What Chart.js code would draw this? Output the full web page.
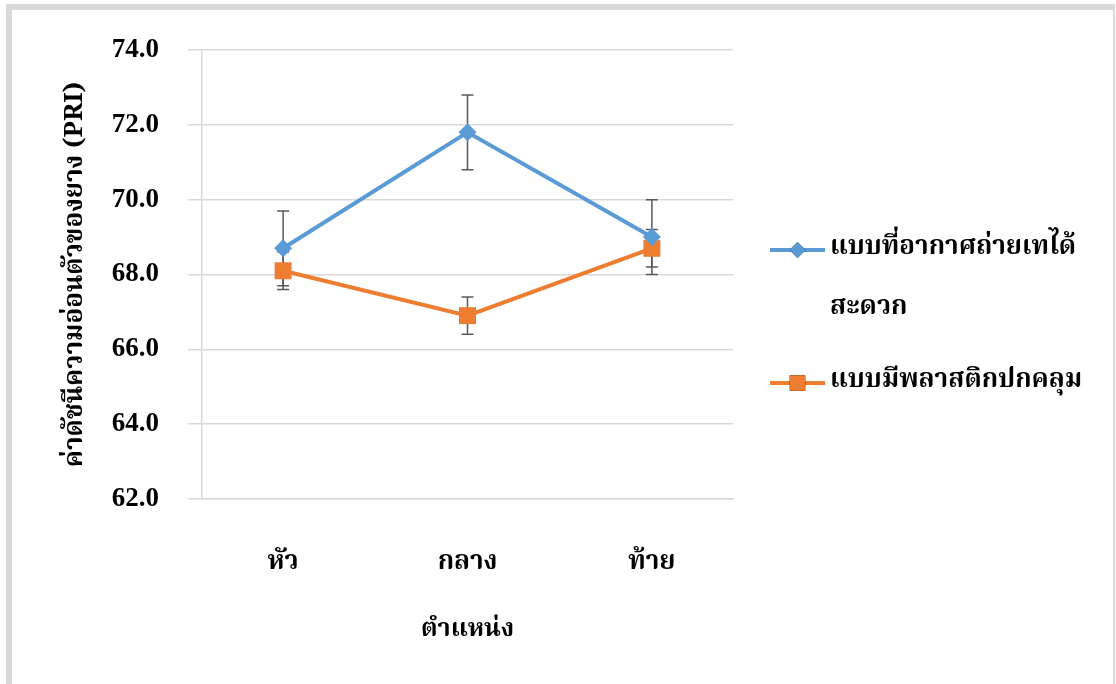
<!DOCTYPE html>
<html>
<head>
<meta charset="utf-8">
<script src="https://cdn.jsdelivr.net/npm/chart.js@4.4.1/dist/chart.umd.min.js"></script>
<style>
html, body { margin: 0; padding: 0; background: #fff; }
#wrap { position: relative; width: 1116px; height: 684px; }
</style>
</head>
<body>
<div id="wrap"><canvas id="chart_pri"></canvas></div>
<script>
// data
var positions = ['หัว', 'กลาง', 'ท้าย'];
var airyName = ['แบบที่อากาศถ่ายเทได้', 'สะดวก'];
var plasticName = ['แบบมีพลาสติกปกคลุม'];
var airyValues = [68.7, 71.8, 69.0];
var airyErrors = [1.0, 1.0, 1.0];
var plasticValues = [68.1, 66.9, 68.7];
var plasticErrors = [0.5, 0.5, 0.5];
var yMin = 62, yMax = 74, yStep = 2;
var yTitle = 'ค่าดัชนีความอ่อนตัวของยาง (PRI)';
var xTitle = 'ตำแหน่ง';

var thaiFont = '"Noto Serif Thai", "Noto Sans Thai", "TH Sarabun New", Garuda, Loma, "DejaVu Sans", sans-serif';
var numFont = '"Liberation Serif", "Times New Roman", serif';
var gridGray = '#d9d9d9';

function toPoints(values) {
    return values.map(function (v, i) { return { x: i, y: v }; });
}

var chart_pri = new Chart(document.getElementById('chart_pri'), {
    type: 'line',
    data: {
        datasets: [
            {
                label: airyName.join(''),
                legendLines: airyName,
                data: toPoints(airyValues),
                errors: airyErrors,
                borderColor: '#5b9bd5',
                backgroundColor: '#5b9bd5',
                borderWidth: 4,
                pointStyle: 'rectRot',
                pointRadius: 9,
                pointBorderWidth: 0,
                tension: 0
            },
            {
                label: plasticName.join(''),
                legendLines: plasticName,
                data: toPoints(plasticValues),
                errors: plasticErrors,
                borderColor: '#ed7d31',
                backgroundColor: '#ed7d31',
                borderWidth: 4,
                pointStyle: 'rect',
                pointRadius: 12,
                pointBorderWidth: 0,
                tension: 0
            }
        ]
    },
    options: {
        animation: false,
        responsive: true,
        maintainAspectRatio: false,
        layout: { padding: { left: 0, top: 50, right: 383, bottom: 0 } },
        plugins: {
            legend: { display: false },
            tooltip: { enabled: false }
        },
        scales: {
            x: {
                type: 'linear',
                min: -0.44,
                max: 2.44,
                grid: { display: false, drawTicks: false },
                border: { display: true, color: gridGray, width: 1.5 },
                afterBuildTicks: function (s) {
                    s.ticks = positions.map(function (_, i) { return { value: i }; });
                },
                ticks: {
                    color: '#000',
                    padding: 50,
                    font: { family: thaiFont, size: 26, weight: 'bold' },
                    callback: function (v) { return positions[v]; }
                },
                title: {
                    display: true,
                    text: xTitle,
                    color: '#000',
                    padding: { top: 0, bottom: 37 },
                    font: { family: thaiFont, size: 25, weight: 'bold' }
                },
                afterFit: function (s) { s.height = 185; }
            },
            y: {
                min: yMin,
                max: yMax,
                grid: { color: gridGray, lineWidth: 1.5, tickLength: 14, tickColor: gridGray },
                border: { display: true, color: gridGray, width: 1.5 },
                ticks: {
                    stepSize: yStep,
                    color: '#000',
                    padding: 29,
                    font: { family: numFont, size: 27, weight: 'bold' },
                    callback: function (v) { return Number(v).toFixed(1); }
                },
                title: {
                    display: true,
                    text: yTitle,
                    color: '#000',
                    padding: { top: 62, bottom: 0 },
                    font: { family: thaiFont, size: 26, weight: 'bold' }
                },
                afterFit: function (s) { s.width = 202; }
            }
        }
    },
    plugins: [
        {
            id: 'frame',
            beforeDraw: function (chart) {
                var ctx = chart.ctx;
                ctx.save();
                ctx.fillStyle = 'white';
                ctx.fillRect(0, 0, chart.width, chart.height);
                ctx.fillStyle = gridGray;
                ctx.fillRect(6, 4, 6, chart.height - 4);
                ctx.fillRect(6, 4, chart.width - 8, 6);
                ctx.fillRect(chart.width - 3, 4, 2, chart.height - 4);
                ctx.restore();
            }
        },
        {
            id: 'errorBars',
            beforeDatasetsDraw: function (chart) {
                var ctx = chart.ctx, ys = chart.scales.y;
                ctx.save();
                ctx.strokeStyle = '#595959';
                ctx.lineWidth = 1.5;
                chart.data.datasets.forEach(function (ds, i) {
                    var meta = chart.getDatasetMeta(i);
                    meta.data.forEach(function (pt, j) {
                        var v = ds.data[j].y;
                        var top = ys.getPixelForValue(v + ds.errors[j]);
                        var bot = ys.getPixelForValue(v - ds.errors[j]);
                        ctx.beginPath();
                        ctx.moveTo(pt.x, top); ctx.lineTo(pt.x, bot);
                        ctx.moveTo(pt.x - 6, top); ctx.lineTo(pt.x + 6, top);
                        ctx.moveTo(pt.x - 6, bot); ctx.lineTo(pt.x + 6, bot);
                        ctx.stroke();
                    });
                });
                ctx.restore();
            }
        },
        {
            id: 'sideLegend',
            afterDraw: function (chart) {
                var ctx = chart.ctx, area = chart.chartArea;
                var x0 = area.right + 37;
                var rows = [area.top + 200, area.top + 333];
                ctx.save();
                ctx.font = 'bold 26px ' + thaiFont;
                ctx.textBaseline = 'middle';
                ctx.textAlign = 'left';
                chart.data.datasets.forEach(function (ds, i) {
                    var y = rows[i];
                    ctx.strokeStyle = ds.borderColor;
                    ctx.lineWidth = ds.borderWidth;
                    ctx.beginPath();
                    ctx.moveTo(x0, y); ctx.lineTo(x0 + 55, y);
                    ctx.stroke();
                    Chart.helpers.drawPoint(ctx, {
                        pointStyle: ds.pointStyle,
                        radius: ds.pointStyle === 'rect' ? 11 : 8,
                        borderWidth: 0,
                        rotation: 0
                    }, x0 + 27.5, y);
                    ctx.fillStyle = ds.backgroundColor;
                    ctx.fill();
                    ctx.fillStyle = '#000';
                    ds.legendLines.forEach(function (line, k) {
                        ctx.fillText(line, x0 + 60, y + k * 60);
                    });
                });
                ctx.restore();
            }
        }
    ]
});
</script>
</body>
</html>
